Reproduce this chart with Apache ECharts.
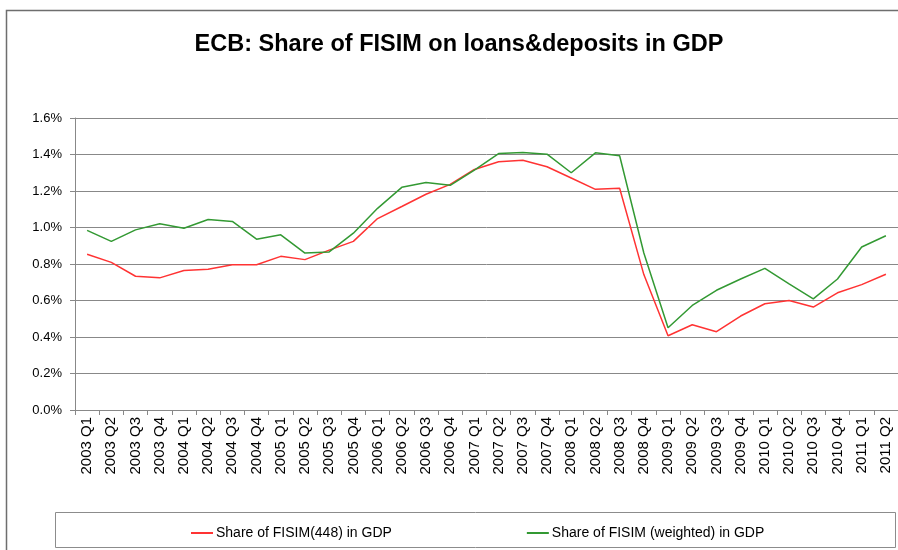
<!DOCTYPE html>
<html>
<head>
<meta charset="utf-8">
<title>ECB: Share of FISIM on loans&amp;deposits in GDP</title>
<script src="https://cdn.jsdelivr.net/npm/echarts@6/dist/echarts.min.js"></script>
<style>
  html, body { margin: 0; padding: 0; background: #fff; }
  #chart { width: 898px; height: 550px; }
</style>
</head>
<body>
<div id="chart"></div>
<script>
// Quarterly periods
const quarters = [
  '2003 Q1','2003 Q2','2003 Q3','2003 Q4',
  '2004 Q1','2004 Q2','2004 Q3','2004 Q4',
  '2005 Q1','2005 Q2','2005 Q3','2005 Q4',
  '2006 Q1','2006 Q2','2006 Q3','2006 Q4',
  '2007 Q1','2007 Q2','2007 Q3','2007 Q4',
  '2008 Q1','2008 Q2','2008 Q3','2008 Q4',
  '2009 Q1','2009 Q2','2009 Q3','2009 Q4',
  '2010 Q1','2010 Q2','2010 Q3','2010 Q4',
  '2011 Q1','2011 Q2'
];

// Share of FISIM in GDP, in percent
const fisim448 = [
  0.853, 0.809, 0.733, 0.724,
  0.764, 0.771, 0.796, 0.796,
  0.842, 0.824, 0.876, 0.924,
  1.049, 1.115, 1.182, 1.236,
  1.318, 1.360, 1.369, 1.333,
  1.271, 1.209, 1.215, 0.742,
  0.407, 0.467, 0.429, 0.515,
  0.582, 0.600, 0.564, 0.642,
  0.687, 0.744
];

const fisimWeighted = [
  0.984, 0.924, 0.987, 1.020,
  0.996, 1.044, 1.033, 0.936,
  0.960, 0.860, 0.866, 0.969,
  1.105, 1.220, 1.247, 1.231,
  1.315, 1.405, 1.411, 1.402,
  1.300, 1.409, 1.393, 0.860,
  0.451, 0.573, 0.656, 0.718,
  0.776, 0.691, 0.609, 0.718,
  0.893, 0.955
];

const seriesNames = ['Share of FISIM(448) in GDP', 'Share of FISIM (weighted) in GDP'];
const seriesColors = ['#ff3333', '#339933'];

const font = 'Liberation Sans, Arial, sans-serif';
const chart = echarts.init(document.getElementById('chart'), null, { renderer: 'canvas' });

chart.setOption({
  animation: false,
  backgroundColor: '#fff',
  title: {
    text: 'ECB: Share of FISIM on loans&deposits in GDP',
    left: 454,
    textAlign: 'center',
    top: 28,
    textStyle: { fontFamily: font, fontSize: 23.5, fontWeight: 'bold', color: '#000' }
  },
  graphic: [
    {
      type: 'rect', z: -1, silent: true,
      shape: { x: 6.5, y: 10.5, width: 1000, height: 1000 },
      style: { fill: null, stroke: '#6e6e6e', lineWidth: 1.5 }
    },
    {
      type: 'rect', z: -1, silent: true,
      shape: { x: 55.5, y: 512.5, width: 840, height: 35 },
      style: { fill: '#fff', stroke: '#8c8c8c', lineWidth: 1 }
    }
  ],
  legend: {
    left: 186,
    top: 521,
    itemGap: 135,
    itemWidth: 22,
    itemHeight: 2,
    icon: 'rect',
    textStyle: { fontFamily: font, fontSize: 14, color: '#000', padding: [0, 0, 0, -2] },
    data: seriesNames
  },
  grid: {
    left: 75,
    top: 118,
    width: 830,
    height: 292,
    containLabel: false
  },
  xAxis: {
    type: 'category',
    data: quarters,
    boundaryGap: true,
    axisLine: { lineStyle: { color: '#888', width: 1 } },
    axisTick: { show: true, length: 5, interval: 0, lineStyle: { color: '#888' } },
    axisLabel: {
      rotate: 90,
      interval: 0,
      margin: 7,
      fontFamily: font,
      fontSize: 15,
      color: '#000'
    },
    splitLine: { show: false }
  },
  yAxis: {
    type: 'value',
    min: 0,
    max: 1.6,
    interval: 0.2,
    axisLine: { show: true, lineStyle: { color: '#888', width: 1 } },
    axisTick: { show: true, length: 5, lineStyle: { color: '#888' } },
    axisLabel: {
      margin: 13,
      fontFamily: font,
      fontSize: 13,
      color: '#000',
      formatter: v => v.toFixed(1) + '%'
    },
    splitLine: { show: true, lineStyle: { color: '#888', width: 1 } }
  },
  series: [
    {
      name: seriesNames[0],
      type: 'line',
      data: fisim448,
      symbol: 'none',
      color: seriesColors[0],
      lineStyle: { color: seriesColors[0], width: 1.5 }
    },
    {
      name: seriesNames[1],
      type: 'line',
      data: fisimWeighted,
      symbol: 'none',
      color: seriesColors[1],
      lineStyle: { color: seriesColors[1], width: 1.5 }
    }
  ]
});
</script>
</body>
</html>
